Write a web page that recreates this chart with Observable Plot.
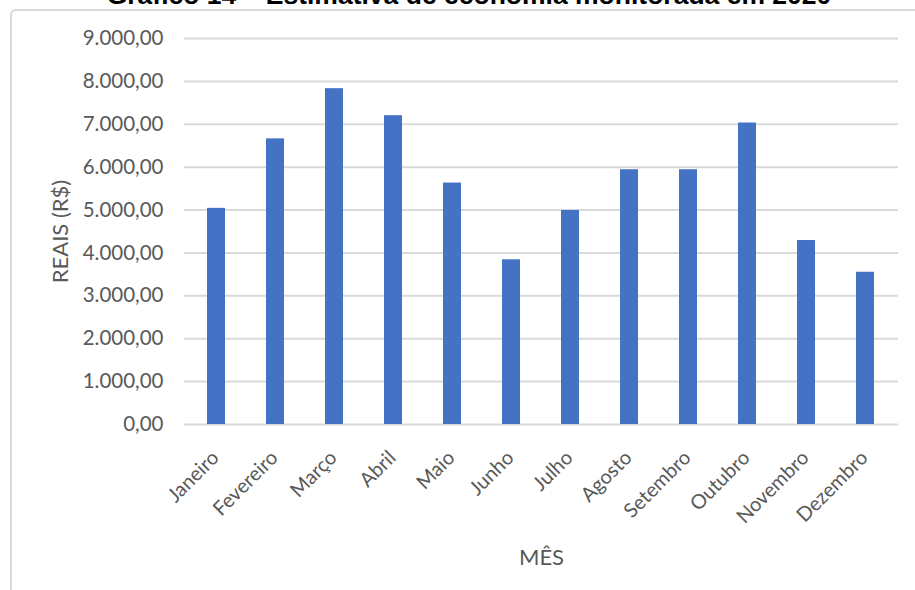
<!DOCTYPE html>
<html>
<head>
<meta charset="utf-8">
<script src="https://cdn.jsdelivr.net/npm/d3@7"></script>
<script src="https://cdn.jsdelivr.net/npm/@observablehq/plot@0.6"></script>
<style>
  html, body { margin: 0; padding: 0; background: #fff; overflow: hidden; width: 915px; height: 590px; }
  #wrap { position: relative; width: 915px; height: 590px; }
  #frame { position: absolute; left: 10px; top: 9px; width: 1000px; height: 700px; border: 2px solid #d9d9d9; border-radius: 6px; box-sizing: border-box; }
  #title { position: absolute; left: 0; top: 0; overflow: visible; }
  #chart { position: absolute; left: 0; top: 0; }
</style>
</head>
<body>
<div id="wrap">
  <div id="frame"></div>
  <div id="chart"></div>
  <svg id="title" width="915" height="20">
    <text x="469" y="4" text-anchor="middle" font-family="Liberation Sans, Arial, sans-serif" font-weight="bold" font-size="26.5" fill="#000">Gráfico 14 – Estimativa de economia monitorada em 2020</text>
  </svg>
</div>
<script>
const meses = ["Janeiro","Fevereiro","Março","Abril","Maio","Junho","Julho","Agosto","Setembro","Outubro","Novembro","Dezembro"];
const valores = [5040, 6660, 7830, 7200, 5630, 3840, 4990, 5940, 5940, 7030, 4290, 3550];
const yTicks = [0,1000,2000,3000,4000,5000,6000,7000,8000,9000];
const yLabel = "REAIS (R$)";
const xLabel = "MÊS";

const data = meses.map((m, i) => ({mes: m, valor: valores[i]}));
const br = d3.formatLocale({decimal: ",", thousands: ".", grouping: [3], currency: ["R$", ""]});
const fmt = br.format(",.2f");

const chart = Plot.plot({
  width: 915,
  height: 590,
  marginLeft: 184,
  marginRight: 17,
  marginTop: 38,
  marginBottom: 166,
  style: {fontFamily: "Lato, sans-serif", color: "#595959", background: "transparent", overflow: "visible"},
  x: {domain: meses, paddingInner: 0.69, paddingOuter: 0.345},
  y: {domain: [0, 9000]},
  marks: [
    Plot.gridY(yTicks, {stroke: "#d9d9d9", strokeOpacity: 1, strokeWidth: 2}),
    Plot.barY(data, {x: "mes", y: "valor", fill: "#4472C4"}),
    Plot.axisY(yTicks, {tickSize: 0, tickPadding: 21, tickFormat: fmt, fontSize: 20.5, label: null}),
    Plot.axisY([], {label: yLabel, labelAnchor: "center", labelOffset: 132, labelArrow: "none", fontSize: 22}),
    Plot.axisX(meses, {tickSize: 0, tickRotate: -45, tickPadding: 30, dx: -1, fontSize: 20, label: null}),
    Plot.axisX([], {label: xLabel, labelAnchor: "center", labelOffset: 140, labelArrow: "none", fontSize: 22})
  ]
});
document.getElementById("chart").appendChild(chart);
</script>
</body>
</html>
